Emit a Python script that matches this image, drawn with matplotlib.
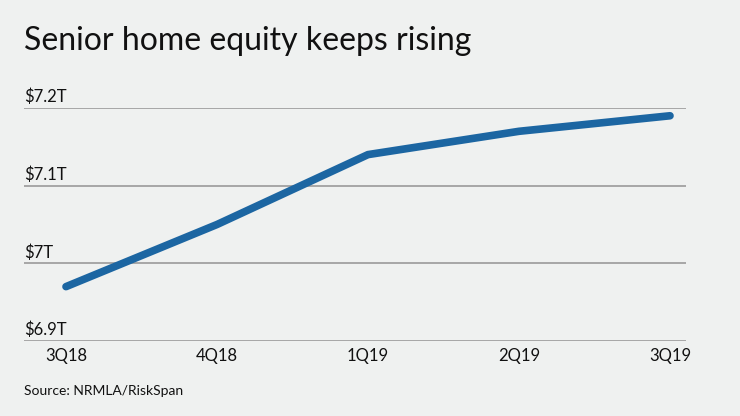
import matplotlib.pyplot as plt
from matplotlib.transforms import offset_copy

# data (trillions of dollars)
quarters = ["3Q18", "4Q18", "1Q19", "2Q19", "3Q19"]
equity = [6.97, 7.05, 7.14, 7.17, 7.19]
y_ticks = [6.9, 7.0, 7.1, 7.2]
y_labels = ["$6.9T", "$7T", "$7.1T", "$7.2T"]

bg = "#eff1f0"
line_color = "#1c66a2"

plt.rcParams["font.family"] = ["Lato", "DejaVu Sans"]

fig = plt.figure(figsize=(7.4, 4.16), dpi=100, facecolor=bg)
ax = fig.add_axes([24 / 740, 75 / 416, 662 / 740, 233 / 416], facecolor=bg)

x = list(range(len(quarters)))
ax.plot(x, equity, color=line_color, linewidth=5.5, solid_capstyle="round",
        clip_on=False, zorder=3)

ax.set_xlim(-42 / 151, 4 + 16 / 151)
ax.set_ylim(6.9, 7.2)

# gridlines, with the y labels sitting just above them
label_tr = offset_copy(ax.get_yaxis_transform(), fig=fig, x=0, y=2, units="points")
for val, lab in zip(y_ticks, y_labels):
    ax.axhline(val, color="#9a9a9a", linewidth=1.2, zorder=1)
    ax.text(0, val, lab, transform=label_tr, ha="left",
            va="bottom", fontsize=12, color="#111111")
ax.set_yticks([])
ax.set_xticks(x)
ax.set_xticklabels(quarters, fontsize=12, color="#111111")
ax.tick_params(axis="x", length=0, pad=5)
for s in ax.spines.values():
    s.set_visible(False)

fig.text(24 / 740, 1 - 50 / 416, "Senior home equity keeps rising",
         fontsize=23, color="#111111", ha="left", va="baseline")
fig.text(24 / 740, 1 - 395 / 416, "Source: NRMLA/RiskSpan",
         fontsize=10, color="#111111", ha="left", va="baseline")

plt.savefig("out.png", dpi=100, facecolor=bg)
